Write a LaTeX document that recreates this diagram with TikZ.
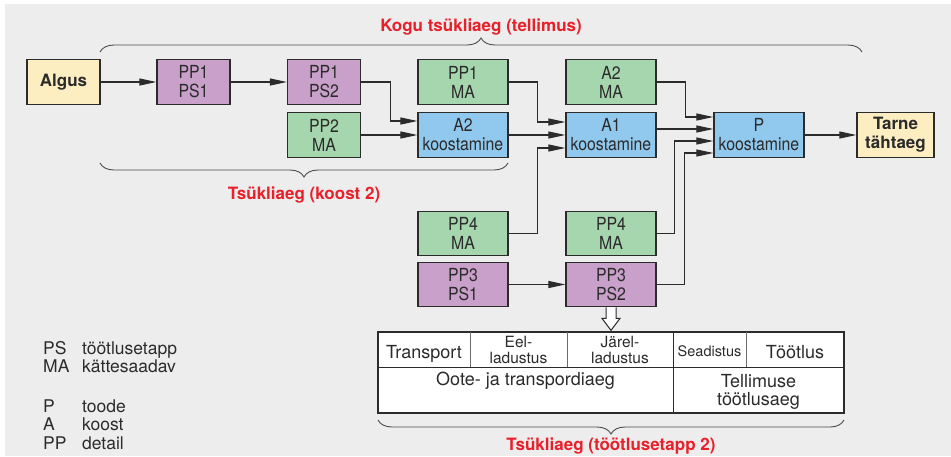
\documentclass[tikz,border=0pt]{standalone}
\usepackage{fontspec}
\setmainfont{TeX Gyre Heros}
\newfontfamily\boxfont[FakeStretch=0.88]{TeX Gyre Heros}
\usetikzlibrary{arrows.meta,decorations.pathreplacing}

\definecolor{bggray}{HTML}{EDEDED}
\definecolor{ink}{HTML}{2B2B2B}
\definecolor{psviolet}{HTML}{C8A0CA}
\definecolor{magreen}{HTML}{A6D6AE}
\definecolor{asmblue}{HTML}{90C8EE}
\definecolor{endyellow}{HTML}{FDEEC2}
\definecolor{labelred}{HTML}{E8202A}

\begin{document}
\begin{tikzpicture}[
  block/.style = {rectangle, draw = ink, line width = 1.2pt, inner sep = 0pt, align = center, minimum width = 90pt, minimum height = 44.5pt, text = ink, font = \boxfont\fontsize{18}{19}\selectfont},
  narrow/.style = {minimum width = 73pt},
  psblock/.style = {block, fill = psviolet},
  mablock/.style = {block, fill = magreen},
  asmblock/.style = {block, fill = asmblue},
  termblock/.style = {block, fill = endyellow, minimum width = 73pt, font = \fontsize{17}{19}\selectfont\bfseries},
  flow/.style = {draw = ink, line width = 1.1pt, -{Triangle[length = 17pt, width = 7pt]}},
  span/.style = {draw = ink!85, line width = 0.9pt, decorate, decoration = {brace, amplitude = 14pt}},
  spanlabel/.style = {anchor = base, text = labelred, font = \fontsize{17}{20}\selectfont\bfseries},
  cell/.style = {align = center, inner sep = 0pt, text = ink, font = \fontsize{18}{18}\selectfont},
  splitcell/.style = {cell, font = \fontsize{15.5}{16}\selectfont},
  x = 1pt,
  y = -1pt
]
  \useasboundingbox (0,0) rectangle (951,456);
  \fill[bggray] (5,4) rectangle (951,456);

  \node[termblock]        (alg)  at (63.5, 82)   {Algus};
  \node[psblock, narrow]  (p1s1) at (193.5, 82)  {PP1\\PS1};
  \node[psblock, narrow]  (p1s2) at (324, 82)    {PP1\\PS2};
  \node[mablock, narrow]  (p2m)  at (324, 135)   {PP2\\MA};
  \node[mablock]          (p1m)  at (463, 82)    {PP1\\MA};
  \node[asmblock]         (a2k)  at (463, 135)   {A2\\koostamine};
  \node[mablock]          (a2m)  at (611, 82)    {A2\\MA};
  \node[asmblock]         (a1k)  at (611, 135)   {A1\\koostamine};
  \node[asmblock]         (pk)   at (759, 135)   {P\\koostamine};
  \node[termblock, minimum width = 77pt] (tt) at (895.5, 135) {Tarne\\tähtaeg};
  \node[mablock]          (p4a)  at (463, 233.5) {PP4\\MA};
  \node[psblock]          (p3s1) at (463, 284.5) {PP3\\PS1};
  \node[mablock]          (p4b)  at (611, 233.5) {PP4\\MA};
  \node[psblock]          (p3s2) at (611, 284.5) {PP3\\PS2};

  \draw[flow] (alg) -- (p1s1);
  \draw[flow] (p1s1) -- (p1s2);
  \draw[flow] (p1s2.east) -- ++(29,0) |- ([yshift=14pt]a2k.west);
  \draw[flow] (p2m) -- (a2k);
  \draw[flow] (p1m.east) -- ++(29,0) |- ([yshift=13pt]a1k.west);
  \draw[flow] (a2k) -- (a1k);
  \draw[flow] (p4a.east) -- ++(29,0) |- ([yshift=-13pt]a1k.west);
  \draw[flow] (a2m.east) -- ++(29,0) |- ([yshift=18pt]pk.west);
  \draw[flow] ([yshift=6pt]a1k.east) -- ([yshift=6pt]pk.west);
  \draw[flow] (p4b.east) -- ++(18,0) |- ([yshift=-6pt]pk.west);
  \draw[flow] (p3s2.east) -- ++(28,0) |- ([yshift=-18pt]pk.west);
  \draw[flow] (pk) -- (tt);
  \draw[flow] (p3s1) -- (p3s2);

  % hollow arrow down into the time table
  \draw[ink, line width = 1pt, fill = white] ([xshift=-5pt]p3s2.south) -- ++(0,11) -- ++(-4,0)
    -- ++(9,12) -- ++(9,-12) -- ++(-4,0) -- ++(0,-11);

  % time table of one processing step
  \draw[ink, line width = 1.1pt, fill = white] (378,332) rectangle (844,413);
  \draw[ink, line width = 0.9pt] (378,367) -- (844,367) (673,332) -- (673,413);
  \draw[ink!70, line width = 0.8pt] (470,332) -- (470,367) (567,332) -- (567,367) (746,332) -- (746,367);
  \node[cell, anchor = base] (ctr) at (424, 358)   {Transport};
  \node[splitcell]           (cee) at (518.5, 350) {Eel-\\ladustus};
  \node[splitcell]           (cja) at (620, 350)   {Järel-\\ladustus};
  \node[cell, anchor = base, font = \fontsize{14.5}{16}\selectfont] (cse) at (709.5, 356) {Seadistus};
  \node[cell, anchor = base] (ctt) at (795, 358)   {Töötlus};
  \node[cell, anchor = base] (cot) at (525.5, 385) {Oote- ja transpordiaeg};
  \node[cell]                (cte) at (758.5, 392) {Tellimuse\\töötlusaeg};

  % braces
  \draw[span] (100,52) -- (862,52);
  \node[spanlabel] (tall) at (481, 31) {Kogu tsükliaeg (tellimus)};
  \draw[span] (508,163) -- (100,163);
  \node[spanlabel] (tkoost) at (304, 199) {Tsükliaeg (koost 2)};
  \draw[span] (844,420) -- (378,420);
  \node[spanlabel] (tstep) at (611, 450) {Tsükliaeg (töötlusetapp 2)};

  % legend
  \node[anchor = base west, inner sep = 0pt, text = ink, font = \fontsize{17.5}{18.5}\selectfont] (key) at (43, 354)
    {\begin{tabular}[t]{@{}p{39pt}@{}l@{}}
      PS & töötlusetapp\\
      MA & kättesaadav\\[21pt]
      P  & toode\\
      A  & koost\\
      PP & detail
    \end{tabular}};
\end{tikzpicture}
\end{document}
